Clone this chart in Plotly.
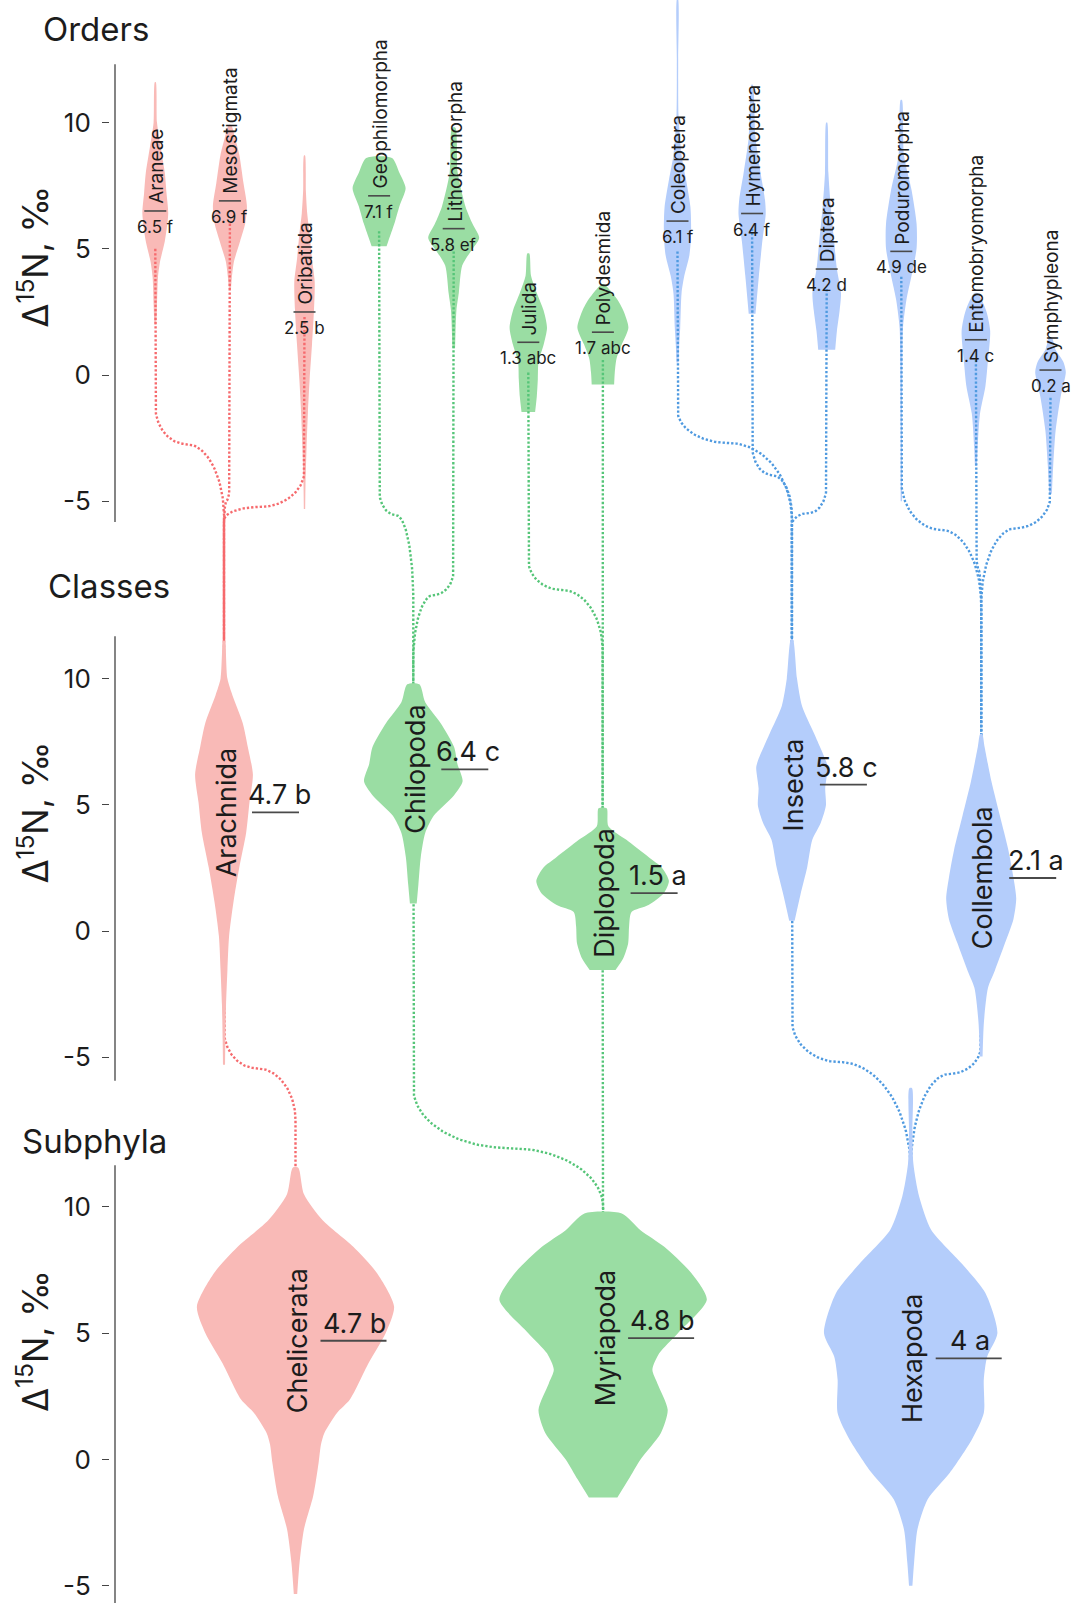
import numpy as np
import plotly.graph_objects as go

W, H = 1071, 1603
FONT = "Inter"
INK = "#1c1c1c"

# ---------------- data ----------------
ORDER_NAMES = ["Araneae", "Mesostigmata", "Oribatida", "Geophilomorpha", "Lithobiomorpha",
               "Julida", "Polydesmida", "Coleoptera", "Hymenoptera", "Diptera",
               "Poduromorpha", "Entomobryomorpha", "Symphypleona"]
ORDER_MEANS = [6.5, 6.9, 2.5, 7.1, 5.8, 1.3, 1.7, 6.1, 6.4, 4.2, 4.9, 1.4, 0.2]
ORDER_LETTERS = ["f", "f", "b", "f", "ef", "abc", "abc", "f", "f", "d", "de", "c", "a"]
ORDER_PARENT = ["Arachnida", "Arachnida", "Arachnida", "Chilopoda", "Chilopoda",
                "Diplopoda", "Diplopoda", "Insecta", "Insecta", "Insecta",
                "Collembola", "Collembola", "Collembola"]
ORDER_STEM = [5.0, 6.0, 2.3, 5.7, 4.9, 0.1, 0.6, 4.9, 5.8, 3.4, 3.9, 0.6, -0.9]

CLASS_NAMES = ["Arachnida", "Chilopoda", "Diplopoda", "Insecta", "Collembola"]
CLASS_MEANS = [4.7, 6.4, 1.5, 5.8, 2.1]
CLASS_LETTERS = ["b", "c", "a", "c", "a"]
CLASS_PARENT = ["Chelicerata", "Myriapoda", "Myriapoda", "Hexapoda", "Hexapoda"]
CLASS_STEM = [6.0, 6.0, 1.0, 5.0, 1.5]

SUB_NAMES = ["Chelicerata", "Myriapoda", "Hexapoda"]
SUB_MEANS = [4.7, 4.8, 4.0]
SUB_LETTERS = ["b", "b", "a"]
SUB_STEM = [0.57, 7.2, 1.17]

TICK_VALUES = [-5, 0, 5, 10]
TICK_LABELS = ["-5", "0", "5", "10"]

# violin outlines: d15N levels and relative density (half-width)
ARANEAE_Y = [2.0, 2.8, 3.9, 4.5, 5.3, 6.4, 7.2, 8.0, 9.1, 10.0, 11.6]
ARANEAE_W = [0.03, 0.05, 0.08, 0.14, 0.28, 0.38, 0.33, 0.28, 0.15, 0.05, 0.015]
MESOSTIGMATA_Y = [3.4, 3.9, 4.5, 5.3, 6.0, 6.7, 7.6, 8.7, 9.4, 9.9]
MESOSTIGMATA_W = [0.03, 0.06, 0.12, 0.30, 0.45, 0.50, 0.40, 0.28, 0.15, 0.04]
ORIBATIDA_Y = [-5.3, -4.3, -2.9, -1.5, -0.2, 1.2, 2.6, 3.7, 4.6, 5.6, 6.4, 7.3, 8.7]
ORIBATIDA_W = [0.02, 0.03, 0.06, 0.10, 0.15, 0.22, 0.28, 0.30, 0.22, 0.15, 0.08, 0.04, 0.015]
GEOPHILOMORPHA_Y = [5.1, 5.3, 6.0, 6.7, 7.4, 8.0, 8.6]
GEOPHILOMORPHA_W = [0.22, 0.27, 0.45, 0.60, 0.78, 0.60, 0.38]
LITHOBIOMORPHA_Y = [1.06, 2.56, 3.25, 4.34, 4.9, 5.43, 6.0, 6.66, 8.0, 9.8]
LITHOBIOMORPHA_W = [0.04, 0.08, 0.15, 0.25, 0.50, 0.75, 0.55, 0.35, 0.12, 0.05]
JULIDA_Y = [-1.46, -0.85, -0.16, 0.52, 1.2, 1.88, 2.56, 3.25, 3.93, 4.82]
JULIDA_W = [0.20, 0.25, 0.28, 0.30, 0.45, 0.55, 0.45, 0.25, 0.08, 0.03]
POLYDESMIDA_Y = [-0.37, 0.11, 0.65, 1.2, 1.88, 2.56, 3.0, 3.3, 3.5, 3.6]
POLYDESMIDA_W = [0.33, 0.35, 0.40, 0.55, 0.75, 0.60, 0.42, 0.25, 0.12, 0.03]
COLEOPTERA_Y = [0.5, 1.2, 1.88, 3.25, 3.93, 4.75, 5.57, 6.66, 7.75, 8.7, 10.3, 12.5, 14.9]
COLEOPTERA_W = [0.03, 0.05, 0.08, 0.12, 0.20, 0.35, 0.40, 0.38, 0.25, 0.12, 0.03, 0.02, 0.015]
HYMENOPTERA_Y = [2.43, 3.93, 5.29, 6.38, 6.93, 8.0, 9.4, 11.5]
HYMENOPTERA_W = [0.10, 0.20, 0.30, 0.40, 0.38, 0.25, 0.10, 0.02]
DIPTERA_Y = [1.0, 1.75, 2.56, 3.25, 4.2, 5.29, 6.66, 8.0, 10.0]
DIPTERA_W = [0.25, 0.30, 0.38, 0.42, 0.30, 0.22, 0.12, 0.05, 0.015]
PODUROMORPHA_Y = [-5.0, -2.0, 0.5, 1.88, 2.97, 3.93, 5.02, 5.98, 7.34, 8.7, 10.9]
PODUROMORPHA_W = [0.02, 0.02, 0.03, 0.05, 0.15, 0.30, 0.45, 0.45, 0.30, 0.08, 0.02]
ENTOMOBRYOMORPHA_Y = [-3.6, -2.9, -1.53, -0.44, 0.52, 1.75, 2.56, 3.25]
ENTOMOBRYOMORPHA_W = [0.03, 0.05, 0.12, 0.28, 0.35, 0.42, 0.30, 0.05]
SYMPHYPLEONA_Y = [-4.7, -3.57, -2.2, -0.85, 0.11, 0.52, 1.0, 1.5]
SYMPHYPLEONA_W = [0.04, 0.08, 0.15, 0.30, 0.45, 0.38, 0.15, 0.04]

ARACHNIDA_Y = [-5.3, -4.29, -2.93, -1.57, -0.2, 1.16, 2.52, 3.88, 5.1, 6.2, 7.29, 8.24, 9.33, 10.0, 11.5]
ARACHNIDA_W = [0.03, 0.04, 0.06, 0.10, 0.15, 0.28, 0.45, 0.65, 0.75, 0.85, 0.70, 0.55, 0.25, 0.10, 0.02]
CHILOPODA_Y = [1.09, 1.84, 2.93, 3.88, 4.56, 5.38, 5.93, 6.6, 7.29, 8.24, 9.06, 9.77]
CHILOPODA_W = [0.10, 0.15, 0.22, 0.35, 0.60, 1.20, 1.45, 1.30, 1.20, 0.80, 0.35, 0.18]
DIPLOPODA_Y = [-1.54, -1.1, -0.5, 0.2, 0.75, 1.03, 1.5, 1.98, 2.5, 2.93, 3.61, 4.15, 4.86]
DIPLOPODA_W = [0.38, 0.60, 0.75, 0.78, 0.85, 1.35, 1.80, 1.95, 1.75, 1.35, 0.70, 0.17, 0.12]
INSECTA_Y = [0.41, 1.43, 2.52, 3.61, 4.29, 4.97, 5.65, 6.47, 6.74, 7.83, 8.9, 10.0, 11.55]
INSECTA_W = [0.08, 0.25, 0.45, 0.60, 0.85, 1.00, 0.98, 1.05, 1.00, 0.65, 0.30, 0.15, 0.03]
COLLEMBOLA_Y = [-4.97, -3.61, -2.25, -1.57, -0.48, 0.48, 1.29, 2.11, 3.2, 4.56, 5.93, 7.29, 7.8]
COLLEMBOLA_W = [0.04, 0.08, 0.20, 0.40, 0.70, 0.95, 1.03, 0.95, 0.80, 0.55, 0.30, 0.10, 0.03]

CHELICERATA_Y = [-5.33, -4.08, -2.76, -1.45, -0.13, 0.6, 1.05, 1.84, 2.37, 3.82, 5.0, 6.05, 7.37, 8.42, 9.47, 10.5, 11.55]
CHELICERATA_W = [0.05, 0.12, 0.25, 0.52, 0.68, 0.75, 0.85, 1.22, 1.60, 2.15, 2.65, 2.90, 2.40, 1.70, 0.80, 0.25, 0.08]
MYRIAPODA_Y = [-1.51, -0.79, 0.0, 1.05, 1.97, 3.0, 3.55, 4.2, 5.0, 6.32, 7.37, 8.42, 9.08, 9.74]
MYRIAPODA_W = [0.42, 0.75, 1.10, 1.70, 1.90, 1.60, 1.45, 1.65, 2.20, 3.05, 2.60, 1.80, 1.10, 0.55]
HEXAPODA_Y = [-5.0, -4.08, -2.76, -1.58, -0.53, 0.79, 1.84, 3.16, 4.08, 5.0, 6.58, 7.76, 9.1, 10.4, 11.7, 13.0, 14.7]
HEXAPODA_W = [0.05, 0.10, 0.20, 0.50, 1.15, 1.80, 2.15, 2.15, 2.25, 2.55, 2.20, 1.50, 0.60, 0.25, 0.08, 0.05, 0.04]

PROFILES = {
    "Araneae": (ARANEAE_Y, ARANEAE_W), "Mesostigmata": (MESOSTIGMATA_Y, MESOSTIGMATA_W),
    "Oribatida": (ORIBATIDA_Y, ORIBATIDA_W), "Geophilomorpha": (GEOPHILOMORPHA_Y, GEOPHILOMORPHA_W),
    "Lithobiomorpha": (LITHOBIOMORPHA_Y, LITHOBIOMORPHA_W), "Julida": (JULIDA_Y, JULIDA_W),
    "Polydesmida": (POLYDESMIDA_Y, POLYDESMIDA_W), "Coleoptera": (COLEOPTERA_Y, COLEOPTERA_W),
    "Hymenoptera": (HYMENOPTERA_Y, HYMENOPTERA_W), "Diptera": (DIPTERA_Y, DIPTERA_W),
    "Poduromorpha": (PODUROMORPHA_Y, PODUROMORPHA_W),
    "Entomobryomorpha": (ENTOMOBRYOMORPHA_Y, ENTOMOBRYOMORPHA_W),
    "Symphypleona": (SYMPHYPLEONA_Y, SYMPHYPLEONA_W),
    "Arachnida": (ARACHNIDA_Y, ARACHNIDA_W), "Chilopoda": (CHILOPODA_Y, CHILOPODA_W),
    "Diplopoda": (DIPLOPODA_Y, DIPLOPODA_W), "Insecta": (INSECTA_Y, INSECTA_W),
    "Collembola": (COLLEMBOLA_Y, COLLEMBOLA_W),
    "Chelicerata": (CHELICERATA_Y, CHELICERATA_W), "Myriapoda": (MYRIAPODA_Y, MYRIAPODA_W),
    "Hexapoda": (HEXAPODA_Y, HEXAPODA_W),
}

# ---------------- layout / style ----------------
PX_PER_UNIT = 25.25
PANEL_ZERO_PX = {"orders": 375.1, "classes": 931.0, "subphyla": 1459.4}
PANEL_AXIS = {"orders": "y", "classes": "y2", "subphyla": "y3"}
AXIS_SPAN = {"orders": (-5.82, 12.31), "classes": (-5.93, 11.67), "subphyla": (-5.75, 11.65)}
AXIS_LINE_X = 115.0
TICK_POS_X = 108.5
HALF_WIDTH_PX = 34.0

ORDER_X0, ORDER_STEP = 155.3, 74.6
CLASS_X0, CLASS_STEP = 224.0, 189.3
SUB_X0, SUB_STEP = 295.5, 307.6

FILL = {"Chelicerata": "#F9BAB7", "Myriapoda": "#9ADDA3", "Hexapoda": "#B4CDFB"}
DOTS = {"Chelicerata": "#F66A6D", "Myriapoda": "#55C578", "Hexapoda": "#4F9AE0"}

# bends of the dotted links: (leave vertical, horizontal turn, rejoin vertical, split),
# levels in the units of the upper panel
ORDER_BENDS = [(-1.22, -2.73, -5.62, 0.45), (-4.16, -4.95, -5.94, 0.5), (-3.76, -5.22, -5.74, 0.55),
               (-4.55, -5.55, -8.91, 0.5), (-7.72, -8.71, -11.28, 0.5), (-7.32, -8.51, -10.89, 0.45),
               (-7.32, -8.12, -8.91, 0.5), (-1.39, -2.69, -5.74, 0.45), (-2.77, -3.96, -5.54, 0.5),
               (-4.35, -5.46, -5.94, 0.5), (-4.16, -6.13, -9.1, 0.5), (-6.53, -7.72, -9.3, 0.5),
               (-4.75, -6.06, -9.1, 0.5)]
CLASS_BENDS = [(-3.92, -5.43, -7.49, 0.45), (-6.22, -8.59, -10.93, 0.5), (-6.69, -7.49, -8.28, 0.5),
               (-3.52, -5.19, -9.47, 0.4), (-4.51, -5.66, -9.47, 0.45)]


def yrange(panel):
    top = PANEL_ZERO_PX[panel] / PX_PER_UNIT
    return [top - H / PX_PER_UNIT, top]


def to_global(panel, v):
    """Express a value of a panel on the first panel's axis."""
    return v + (PANEL_ZERO_PX["orders"] - PANEL_ZERO_PX[panel]) / PX_PER_UNIT


order_x = [ORDER_X0 + ORDER_STEP * i for i in range(len(ORDER_NAMES))]
class_x = [CLASS_X0 + CLASS_STEP * i for i in range(len(CLASS_NAMES))]
sub_x = [SUB_X0 + SUB_STEP * i for i in range(len(SUB_NAMES))]

class_idx = {n: i for i, n in enumerate(CLASS_NAMES)}
sub_idx = {n: i for i, n in enumerate(SUB_NAMES)}
class_group = dict(zip(CLASS_NAMES, CLASS_PARENT))
order_group = [class_group[p] for p in ORDER_PARENT]

fig = go.Figure()


def add_violin(name, cx, group, panel):
    ys, ws = PROFILES[name]
    ys = np.asarray(ys, float)
    hw = np.asarray(ws, float) * HALF_WIDTH_PX
    x = np.concatenate([cx + hw, (cx - hw)[::-1]])
    y = np.concatenate([ys, ys[::-1]])
    fig.add_trace(go.Scatter(
        x=x, y=y, mode="lines", fill="toself", fillcolor=FILL[group],
        line=dict(width=0, color=FILL[group], shape="spline", smoothing=0.7),
        xaxis="x", yaxis=PANEL_AXIS[panel], hoverinfo="skip", showlegend=False))


for n, cx, g in zip(ORDER_NAMES, order_x, order_group):
    add_violin(n, cx, g, "orders")
for n, cx, g in zip(CLASS_NAMES, class_x, CLASS_PARENT):
    add_violin(n, cx, g, "classes")
for n, cx in zip(SUB_NAMES, sub_x):
    add_violin(n, cx, n, "subphyla")


# dotted links between levels (drawn on the first panel's axis)
def link_path(xc, yc, xp, yp, ya, ym, yb, s):
    xm = xc + (xp - xc) * s
    th = np.linspace(0, np.pi / 2, 40)
    x1 = xc + (xm - xc) * (1 - np.cos(th))
    y1 = ya + (ym - ya) * np.sin(th)
    x2 = xm + (xp - xm) * np.sin(th)
    y2 = ym + (yb - ym) * (1 - np.cos(th))
    xs = np.concatenate([[xc], x1, x2[1:], [xp]])
    ys = np.concatenate([[yc], y1, y2[1:], [yp]])
    return xs, ys


links = {g: ([], []) for g in SUB_NAMES}
for i, n in enumerate(ORDER_NAMES):
    p = class_idx[ORDER_PARENT[i]]
    ya, ym, yb, s = ORDER_BENDS[i]
    xs, ys = link_path(order_x[i], ORDER_STEM[i], class_x[p], to_global("classes", CLASS_STEM[p]),
                       ya, ym, yb, s)
    links[order_group[i]][0].extend(list(xs) + [None])
    links[order_group[i]][1].extend(list(ys) + [None])
for i, n in enumerate(CLASS_NAMES):
    p = sub_idx[CLASS_PARENT[i]]
    ya, ym, yb, s = [to_global("classes", v) for v in CLASS_BENDS[i][:3]] + [CLASS_BENDS[i][3]]
    xs, ys = link_path(class_x[i], to_global("classes", CLASS_STEM[i]), sub_x[p],
                       to_global("subphyla", SUB_STEM[p]), ya, ym, yb, s)
    links[CLASS_PARENT[i]][0].extend(list(xs) + [None])
    links[CLASS_PARENT[i]][1].extend(list(ys) + [None])

for g in SUB_NAMES:
    fig.add_trace(go.Scatter(
        x=links[g][0], y=links[g][1], mode="lines",
        line=dict(color=DOTS[g], width=2.4, dash="2.3px,2px"),
        xaxis="x", yaxis="y", hoverinfo="skip", showlegend=False))


# mean markers
def mean_segments(xs, means, dx0, dx1, panel, width):
    lx, ly = [], []
    for cx, m in zip(xs, means):
        lx += [cx + dx0, cx + dx1, None]
        ly += [m, m, None]
    fig.add_trace(go.Scatter(x=lx, y=ly, mode="lines", line=dict(color="#4a4a4a", width=width),
                             xaxis="x", yaxis=PANEL_AXIS[panel], hoverinfo="skip", showlegend=False))


mean_segments(order_x, ORDER_MEANS, -11, 11, "orders", 1.6)
mean_segments(class_x, CLASS_MEANS, 28, 75, "classes", 1.8)
mean_segments(sub_x, SUB_MEANS, 25, 91, "subphyla", 1.8)

annotations = []
for n, cx, m, l in zip(ORDER_NAMES, order_x, ORDER_MEANS, ORDER_LETTERS):
    annotations.append(dict(x=cx, y=m, xref="x", yref="y", text=n, textangle=-90, showarrow=False,
                            xanchor="center", yanchor="bottom", yshift=5, xshift=1,
                            font=dict(family=FONT, size=19, color=INK)))
    annotations.append(dict(x=cx, y=m, xref="x", yref="y", text=f"{m:g} {l}", showarrow=False,
                            xanchor="center", yanchor="top", yshift=-4,
                            font=dict(family=FONT, size=17, color=INK)))
for n, cx, m, l in zip(CLASS_NAMES, class_x, CLASS_MEANS, CLASS_LETTERS):
    annotations.append(dict(x=cx, y=m, xref="x", yref="y2", text=n, textangle=-90, showarrow=False,
                            xanchor="center", yanchor="middle", xshift=2,
                            font=dict(family=FONT, size=27, color=INK)))
    annotations.append(dict(x=cx + 55, y=m, xref="x", yref="y2", text=f"{m:g} {l}", showarrow=False,
                            xanchor="center", yanchor="bottom", yshift=-1,
                            font=dict(family=FONT, size=27, color=INK)))
for n, cx, m, l in zip(SUB_NAMES, sub_x, SUB_MEANS, SUB_LETTERS):
    annotations.append(dict(x=cx, y=m, xref="x", yref="y3", text=n, textangle=-90, showarrow=False,
                            xanchor="center", yanchor="middle", xshift=2,
                            font=dict(family=FONT, size=27, color=INK)))
    annotations.append(dict(x=cx + 59, y=m, xref="x", yref="y3", text=f"{m:g} {l}", showarrow=False,
                            xanchor="center", yanchor="bottom", yshift=-1,
                            font=dict(family=FONT, size=27, color=INK)))

# panel titles and axis titles
PANEL_TITLES = [("Orders", "orders", 41, 29), ("Classes", "classes", 46, 586), ("Subphyla", "subphyla", 20, 1141)]
for text, panel, left_px, mid_px in PANEL_TITLES:
    annotations.append(dict(x=left_px / W, y=1 - mid_px / H, xref="paper", yref="paper", text=text,
                            showarrow=False, xanchor="left", yanchor="middle",
                            font=dict(family=FONT, size=33, color=INK)))
    annotations.append(dict(x=33 / W, y=4.7, xref="paper", yref=PANEL_AXIS[panel],
                            text="Δ<sup>15</sup>N, ‰", textangle=-90, showarrow=False,
                            xanchor="center", yanchor="middle",
                            font=dict(family=FONT, size=35, color=INK)))

shapes = []
for panel in ["orders", "classes", "subphyla"]:
    lo, hi = AXIS_SPAN[panel]
    shapes.append(dict(type="line", xref="x", yref=PANEL_AXIS[panel], x0=AXIS_LINE_X, x1=AXIS_LINE_X,
                       y0=lo, y1=hi, line=dict(color="#333333", width=1.2)))


def yaxis_cfg(panel, overlay=None):
    cfg = dict(range=yrange(panel), domain=[0, 1], anchor="free", position=TICK_POS_X / W,
               showgrid=False, zeroline=False, showline=False, ticks="outside", ticklen=6.5,
               tickwidth=1.3, tickcolor="#444444", tickvals=TICK_VALUES, ticktext=TICK_LABELS,
               ticklabelstandoff=6,
               tickfont=dict(family=FONT, size=26, color=INK), fixedrange=True)
    if overlay:
        cfg["overlaying"] = overlay
    return cfg


fig.update_layout(
    width=W, height=H, autosize=False,
    margin=dict(l=0, r=0, t=0, b=0, pad=0),
    paper_bgcolor="white", plot_bgcolor="white",
    xaxis=dict(range=[0, W], domain=[0, 1], visible=False, fixedrange=True),
    yaxis=yaxis_cfg("orders"),
    yaxis2=yaxis_cfg("classes", "y"),
    yaxis3=yaxis_cfg("subphyla", "y"),
    annotations=annotations, shapes=shapes, showlegend=False,
)

fig.write_html("out.html", config={"displayModeBar": False})
